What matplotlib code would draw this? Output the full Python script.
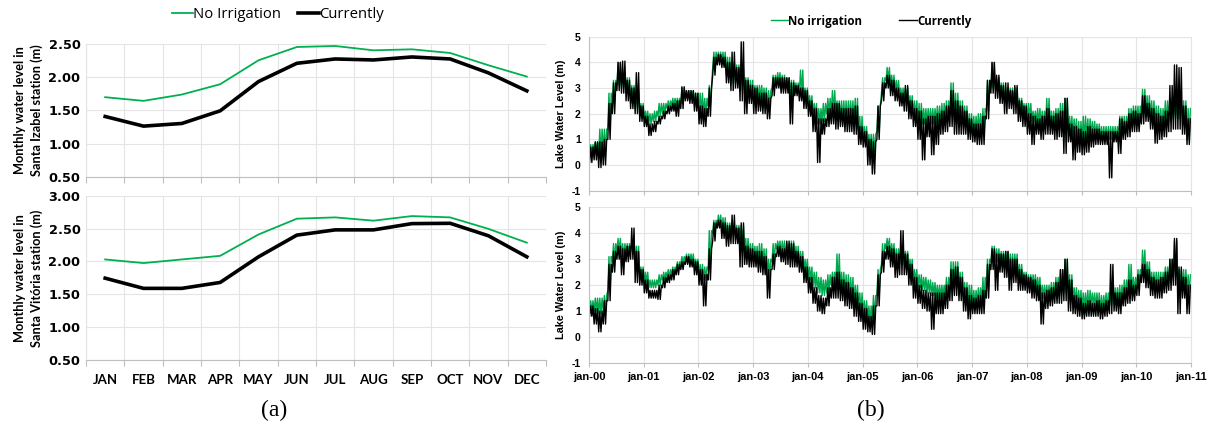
import numpy as np
import matplotlib
matplotlib.use('Agg')
import matplotlib.pyplot as plt
from matplotlib.lines import Line2D

GREEN = "#00B050"
GREEN_DAILY = "#00A84F"
GRID = "#E4E4E4"
AXIS = "#BFBFBF"

# (a) mean monthly level at the two stations
MONTHS = ["JAN", "FEB", "MAR", "APR", "MAY", "JUN", "JUL", "AUG", "SEP", "OCT", "NOV", "DEC"]
IZABEL_NO_IRR = [1.70, 1.645, 1.74, 1.895, 2.255, 2.455, 2.47, 2.405, 2.42, 2.365, 2.18, 2.01]
IZABEL_CURRENT = [1.41, 1.265, 1.305, 1.495, 1.935, 2.21, 2.275, 2.26, 2.305, 2.275, 2.065, 1.795]
VITORIA_NO_IRR = [2.03, 1.975, 2.03, 2.085, 2.41, 2.65, 2.67, 2.62, 2.69, 2.67, 2.495, 2.285]
VITORIA_CURRENT = [1.745, 1.59, 1.59, 1.68, 2.07, 2.40, 2.48, 2.48, 2.575, 2.58, 2.39, 2.07]

# (b) daily lake level 2000-2010, kept as monthly low / high of the daily trace
YEAR_TICKS = ["jan-%02d" % y for y in range(0, 12)]

TOP_CURR_LO = [
	[0.1, 0.2, -0.1, 0.0, 1.0, 2.0, 2.9, 2.8, 2.5, 2.2, 2.0, 1.7],
	[1.5, 1.15, 1.3, 1.6, 1.8, 2.0, 2.1, 1.9, 2.2, 2.5, 2.4, 2.1],
	[1.6, 1.5, 1.9, 3.5, 3.9, 3.8, 3.2, 2.9, 3.0, 2.5, 2.0, 2.4],
	[2.0, 2.1, 2.0, 1.8, 2.7, 3.0, 2.8, 2.8, 1.6, 2.7, 2.5, 2.2],
	[1.9, 1.3, 0.1, 1.2, 1.5, 1.6, 1.4, 1.5, 1.3, 1.3, 1.2, 0.8],
	[0.7, 0.0, -0.35, 1.0, 2.5, 3.0, 2.7, 2.5, 2.3, 2.1, 1.8, 1.5],
	[1.0, 0.2, 1.1, 0.4, 0.8, 1.2, 1.3, 1.5, 1.2, 1.2, 1.2, 1.0],
	[0.9, 0.8, 0.8, 1.8, 2.8, 2.6, 2.4, 2.0, 2.2, 2.0, 1.7, 1.5],
	[1.2, 0.8, 1.2, 1.0, 1.2, 1.2, 1.0, 1.1, 0.45, 0.9, 0.2, 0.5],
	[0.4, 0.5, 0.7, 0.8, 0.8, 0.8, -0.5, 0.9, 0.45, 1.0, 1.1, 1.3],
	[1.3, 1.6, 1.7, 1.4, 0.85, 1.0, 1.1, 1.3, 1.4, 1.4, 1.2, 0.8],
]
TOP_CURR_HI = [
	[0.7, 0.9, 0.9, 1.0, 2.4, 3.2, 4.0, 4.05, 3.3, 3.0, 3.6, 2.3],
	[1.9, 1.6, 1.7, 1.9, 2.1, 2.3, 2.4, 2.5, 3.05, 2.9, 2.9, 2.8],
	[2.3, 2.2, 3.0, 4.2, 4.3, 4.2, 4.0, 4.4, 3.8, 4.8, 3.3, 3.1],
	[3.0, 2.8, 2.8, 2.6, 3.4, 3.4, 3.4, 3.4, 3.2, 3.1, 3.0, 2.9],
	[2.5, 2.2, 1.8, 1.8, 2.2, 2.4, 2.4, 2.2, 2.2, 2.2, 2.3, 1.5],
	[1.3, 1.0, 0.9, 2.3, 3.2, 3.5, 3.3, 3.0, 2.8, 3.1, 2.5, 2.2],
	[2.1, 1.8, 1.9, 1.9, 2.0, 2.1, 2.3, 2.9, 2.5, 2.3, 2.1, 1.8],
	[1.6, 1.6, 1.9, 3.3, 4.0, 3.5, 3.1, 3.2, 2.9, 3.1, 2.5, 2.3],
	[2.0, 1.9, 1.8, 1.9, 2.2, 1.9, 2.0, 2.1, 2.6, 1.6, 1.5, 1.4],
	[1.3, 1.5, 1.4, 1.4, 1.3, 1.3, 1.3, 1.3, 1.8, 1.7, 2.0, 2.1],
	[2.0, 2.7, 2.4, 2.2, 2.0, 1.9, 2.1, 3.1, 3.9, 3.8, 2.3, 1.8],
]
TOP_NOIRR_LO = [
	[0.4, 0.5, 0.4, 0.5, 1.4, 2.4, 3.1, 3.0, 2.8, 2.4, 2.2, 1.9],
	[1.8, 1.6, 1.7, 1.9, 2.0, 2.2, 2.3, 2.3, 2.4, 2.6, 2.6, 2.3],
	[2.0, 1.9, 2.3, 3.8, 4.1, 4.0, 3.5, 3.2, 3.2, 2.9, 2.7, 2.7],
	[2.5, 2.6, 2.5, 2.2, 3.0, 3.2, 3.1, 3.0, 2.6, 2.8, 2.8, 2.5],
	[2.2, 1.9, 1.6, 1.7, 2.0, 2.0, 2.0, 1.8, 1.7, 1.8, 1.6, 1.0],
	[1.0, 0.6, 0.5, 1.3, 2.8, 3.3, 3.0, 2.8, 2.6, 2.5, 2.2, 1.9],
	[1.6, 1.6, 1.6, 1.6, 1.6, 1.6, 1.7, 1.9, 1.7, 1.5, 1.6, 1.3],
	[1.2, 1.3, 1.2, 2.1, 3.0, 2.9, 2.7, 2.4, 2.6, 2.4, 2.0, 1.9],
	[1.8, 1.7, 1.6, 1.5, 1.6, 1.5, 1.5, 1.5, 1.4, 1.3, 1.1, 0.9],
	[0.9, 1.0, 1.1, 1.1, 1.0, 1.0, 1.0, 1.0, 1.1, 1.2, 1.4, 1.6],
	[1.6, 2.0, 1.9, 1.7, 1.5, 1.4, 1.6, 1.7, 1.8, 1.8, 1.5, 1.0],
]
TOP_NOIRR_HI = [
	[0.8, 0.9, 1.4, 1.4, 2.8, 3.3, 4.0, 3.6, 3.4, 3.1, 2.9, 2.4],
	[2.1, 2.0, 2.1, 2.4, 2.4, 2.5, 2.6, 2.6, 3.0, 2.9, 2.9, 2.8],
	[2.8, 2.6, 3.1, 4.4, 4.4, 4.4, 4.2, 4.0, 3.9, 3.8, 3.4, 3.3],
	[3.1, 3.1, 3.0, 2.9, 3.5, 3.6, 3.5, 3.4, 3.3, 3.2, 3.7, 3.0],
	[2.7, 2.4, 2.2, 2.4, 2.6, 2.9, 2.5, 2.5, 2.5, 2.5, 2.6, 1.9],
	[1.5, 1.2, 1.2, 2.3, 3.4, 3.8, 3.5, 3.3, 3.0, 3.0, 2.7, 2.5],
	[2.4, 2.2, 2.2, 2.2, 2.3, 2.4, 2.5, 3.2, 2.8, 2.5, 2.3, 2.0],
	[1.9, 2.0, 2.2, 3.3, 4.0, 3.4, 3.2, 3.0, 3.0, 3.0, 2.6, 2.4],
	[2.4, 2.1, 2.2, 2.1, 2.6, 2.1, 2.2, 2.4, 2.6, 1.9, 1.8, 1.7],
	[1.9, 1.8, 1.7, 1.6, 1.5, 1.5, 1.5, 1.5, 1.9, 1.9, 2.2, 2.3],
	[2.3, 2.95, 2.7, 2.5, 2.3, 2.2, 2.5, 2.6, 2.6, 2.5, 2.5, 2.2],
]

BOT_CURR_LO = [
	[0.8, 0.5, 0.2, 0.5, 1.4, 2.5, 3.0, 2.4, 2.9, 3.0, 2.1, 2.0],
	[1.7, 1.5, 1.5, 1.45, 1.9, 2.1, 2.2, 2.4, 2.6, 2.8, 2.7, 2.4],
	[2.0, 1.2, 2.2, 3.7, 4.2, 3.8, 3.5, 3.6, 3.6, 2.7, 2.8, 2.7],
	[2.7, 2.5, 2.4, 1.5, 2.6, 3.1, 2.9, 2.8, 2.7, 2.7, 2.5, 2.1],
	[1.7, 1.3, 1.0, 0.9, 1.2, 1.5, 1.5, 1.4, 1.2, 1.1, 0.8, 0.6],
	[0.3, 0.2, 0.1, 1.2, 2.5, 3.0, 2.7, 2.3, 2.4, 2.4, 2.0, 1.5],
	[1.3, 1.1, 1.0, 0.3, 0.9, 0.9, 1.1, 1.4, 1.6, 1.4, 1.0, 0.7],
	[0.9, 0.9, 0.9, 1.5, 2.6, 1.8, 2.5, 2.3, 1.8, 2.1, 1.8, 1.8],
	[1.7, 1.5, 1.4, 0.5, 1.1, 1.2, 1.3, 1.3, 1.4, 1.0, 0.9, 0.8],
	[0.7, 0.8, 0.8, 0.8, 0.7, 0.8, 0.9, 1.0, 0.9, 1.2, 1.3, 1.4],
	[1.6, 2.1, 1.9, 1.6, 1.5, 1.5, 1.7, 1.8, 2.0, 0.9, 1.5, 0.9],
]
BOT_CURR_HI = [
	[1.2, 1.1, 1.0, 1.4, 2.8, 3.3, 3.5, 3.4, 3.5, 4.2, 3.3, 2.6],
	[2.2, 1.8, 1.8, 2.0, 2.3, 2.4, 2.6, 2.8, 2.9, 3.1, 3.0, 2.9],
	[2.6, 2.4, 3.4, 4.4, 4.5, 4.4, 4.3, 4.7, 4.2, 4.4, 3.5, 3.4],
	[3.3, 3.3, 3.1, 2.6, 3.2, 3.5, 3.4, 3.7, 3.6, 3.3, 3.1, 2.7],
	[2.3, 1.9, 1.6, 1.5, 1.9, 2.3, 2.5, 2.2, 2.1, 1.9, 1.7, 1.3],
	[1.1, 0.8, 1.2, 2.4, 3.3, 3.5, 3.4, 3.2, 4.1, 3.2, 2.8, 2.3],
	[2.0, 1.8, 1.7, 1.7, 1.7, 1.7, 2.0, 2.6, 2.7, 2.3, 1.9, 1.6],
	[1.5, 1.6, 1.8, 2.8, 3.4, 3.2, 3.2, 3.3, 3.0, 3.0, 2.6, 2.4],
	[2.3, 2.2, 2.0, 1.7, 1.8, 1.9, 2.1, 2.6, 3.0, 2.2, 1.6, 1.5],
	[1.3, 1.4, 1.3, 1.4, 1.3, 1.4, 2.8, 1.7, 1.7, 1.9, 2.2, 2.0],
	[2.4, 2.8, 2.6, 2.3, 2.2, 2.3, 2.5, 3.0, 3.8, 2.7, 2.3, 2.0],
]
BOT_NOIRR_LO = [
	[1.0, 1.0, 0.9, 1.0, 1.8, 2.9, 3.3, 3.1, 3.2, 3.3, 2.9, 2.3],
	[2.1, 1.9, 1.9, 2.0, 2.2, 2.3, 2.4, 2.6, 2.8, 2.9, 2.9, 2.7],
	[2.3, 2.2, 2.6, 4.0, 4.3, 4.1, 3.8, 3.9, 3.9, 3.6, 3.1, 3.0],
	[3.0, 2.8, 2.7, 2.3, 2.9, 3.4, 3.2, 3.1, 3.0, 2.9, 2.8, 2.5],
	[2.2, 1.9, 1.7, 1.6, 1.7, 2.0, 2.0, 1.8, 1.6, 1.5, 1.3, 1.0],
	[0.8, 0.6, 0.7, 1.6, 2.8, 3.4, 3.1, 2.8, 2.8, 2.8, 2.5, 2.1],
	[1.9, 1.8, 1.7, 1.6, 1.5, 1.5, 1.5, 1.9, 2.0, 1.8, 1.4, 1.2],
	[1.2, 1.3, 1.3, 1.8, 2.9, 2.9, 2.8, 2.7, 2.6, 2.6, 2.2, 2.0],
	[2.0, 1.9, 1.8, 1.5, 1.5, 1.5, 1.6, 1.6, 1.7, 1.4, 1.3, 1.2],
	[1.1, 1.1, 1.2, 1.1, 1.0, 1.1, 1.2, 1.3, 1.3, 1.5, 1.6, 1.7],
	[1.9, 2.4, 2.2, 1.9, 1.8, 1.8, 2.0, 2.1, 2.3, 2.0, 1.8, 1.7],
]
BOT_NOIRR_HI = [
	[1.4, 1.5, 1.5, 1.6, 3.1, 3.6, 3.8, 3.6, 3.6, 3.6, 3.5, 2.7],
	[2.5, 2.2, 2.2, 2.4, 2.5, 2.6, 2.7, 2.9, 3.1, 3.2, 3.2, 3.0],
	[2.8, 2.7, 4.1, 4.5, 4.7, 4.6, 4.4, 4.3, 4.3, 4.3, 3.8, 3.6],
	[3.5, 3.6, 3.4, 3.0, 3.6, 3.7, 3.7, 3.6, 3.7, 3.5, 3.3, 3.0],
	[2.7, 2.5, 2.3, 2.2, 2.4, 2.5, 3.2, 2.5, 2.4, 2.3, 2.0, 1.7],
	[1.4, 1.2, 1.6, 2.6, 3.6, 3.8, 3.6, 3.4, 3.5, 3.3, 3.0, 2.6],
	[2.4, 2.3, 2.2, 2.1, 2.0, 2.0, 2.3, 2.9, 2.9, 2.5, 2.1, 2.0],
	[1.8, 1.9, 2.3, 3.0, 3.5, 3.4, 3.3, 3.3, 3.2, 3.2, 2.8, 2.5],
	[2.4, 2.4, 2.3, 2.0, 2.0, 2.1, 2.3, 2.6, 3.0, 2.4, 1.9, 1.8],
	[1.7, 1.8, 1.7, 1.7, 1.6, 1.7, 1.8, 1.9, 2.0, 2.2, 2.8, 2.3],
	[2.6, 3.35, 2.9, 2.5, 2.5, 2.5, 2.7, 3.0, 3.7, 2.6, 2.6, 2.4],
]

LEFT_FONT = ["Lato", "DejaVu Sans"]
WIDE_FONT = ["DejaVu Sans"]
LEGEND_FONT = ["Open Sans", "DejaVu Sans"]
RIGHT_FONT = ["Liberation Sans", "DejaVu Sans"]


def zigzag(lo, hi):
	"""Swing between each month's low and high twice, so the trace fills its daily range."""
	lo = np.ravel(lo)
	hi = np.ravel(hi)
	m = np.arange(len(lo))
	x = np.column_stack([m + 0.125, m + 0.375, m + 0.625, m + 0.875]).ravel()
	y = np.column_stack([lo, hi, lo, hi]).ravel()
	return x, y


def style_monthly(ax, ylim, yticks, show_labels):
	ax.set_xlim(-0.5, 11.5)
	ax.set_ylim(*ylim)
	ax.set_yticks(yticks)
	ax.set_yticklabels(["%.2f" % v for v in yticks], fontweight="bold", fontsize=9.3, family=WIDE_FONT)
	ax.set_xticks(np.arange(-0.5, 12, 1.0))
	ax.set_xticklabels([])
	ax.tick_params(axis="x", length=4, color=AXIS, width=0.8)
	ax.set_xticks(range(12), minor=True)
	if show_labels:
		ax.set_xticklabels(MONTHS, minor=True, fontweight="bold", fontsize=9.5, family=LEFT_FONT)
	ax.tick_params(axis="x", which="minor", length=0, pad=10)
	ax.tick_params(axis="y", length=0, pad=4)
	ax.grid(True, which="major", color=GRID, lw=0.8)
	ax.set_axisbelow(True)
	for side in ("top", "right"):
		ax.spines[side].set_visible(False)
	ax.spines["left"].set_color(GRID)
	ax.spines["bottom"].set_color(AXIS)


def style_daily(ax):
	ax.set_xlim(0, 132)
	ax.set_ylim(-1, 5)
	ax.set_yticks(range(-1, 6))
	ax.set_yticklabels([str(v) for v in range(-1, 6)], fontweight="bold", fontsize=7.5, family=RIGHT_FONT)
	ax.set_xticks(range(0, 133, 12))
	ax.tick_params(axis="x", length=3, color=AXIS, width=0.8)
	ax.tick_params(axis="y", length=0, pad=6)
	ax.grid(True, color=GRID, lw=0.8)
	ax.set_axisbelow(True)
	ax.spines["top"].set_visible(False)
	ax.spines["right"].set_color(GRID)
	ax.spines["left"].set_color(AXIS)
	ax.spines["bottom"].set_color(AXIS)
	ax.set_ylabel("Lake Water Level (m)", fontweight="bold", fontsize=7.8, family=RIGHT_FONT, labelpad=4)


fig = plt.figure(figsize=(12.13, 4.30), dpi=100)
W, H = 1213.0, 430.0

# (a) monthly panels
ax_a1 = fig.add_axes([86 / W, 1 - 177 / H, 460 / W, 133 / H])
ax_a2 = fig.add_axes([86 / W, 1 - 360 / H, 460 / W, 164.3 / H])
x = np.arange(12)
for ax, no_irr, curr, ylim, yticks, lab, show in [
	(ax_a1, IZABEL_NO_IRR, IZABEL_CURRENT, (0.5, 2.5), [0.5, 1.0, 1.5, 2.0, 2.5],
		"Monthly water level in\nSanta Izabel station (m)", False),
	(ax_a2, VITORIA_NO_IRR, VITORIA_CURRENT, (0.5, 3.0), [0.5, 1.0, 1.5, 2.0, 2.5, 3.0],
		"Monthly water level in\nSanta Vitória station (m)", True)]:
	ax.plot(x, no_irr, color=GREEN, lw=1.3)
	ax.plot(x, curr, color="black", lw=2.6)
	style_monthly(ax, ylim, yticks, show)
	ax.set_ylabel(lab, fontweight="bold", fontsize=9.2, family=LEFT_FONT, labelpad=4, linespacing=1.4)

fig.legend([Line2D([], [], color=GREEN, lw=1.3), Line2D([], [], color="black", lw=2.6)],
	["No Irrigation", "Currently"], loc="center", bbox_to_anchor=(278 / W, 1 - 15 / H),
	ncol=2, frameon=False, handlelength=1.4, handletextpad=0.05, columnspacing=1.1,
	prop={"family": LEGEND_FONT, "size": 10.7})

# (b) daily lake level panels
ax_b1 = fig.add_axes([589 / W, 1 - 190.7 / H, 602 / W, 154 / H])
ax_b2 = fig.add_axes([589 / W, 1 - 363 / H, 602 / W, 155.7 / H])
for ax, nlo, nhi, clo, chi, show in [
	(ax_b1, TOP_NOIRR_LO, TOP_NOIRR_HI, TOP_CURR_LO, TOP_CURR_HI, False),
	(ax_b2, BOT_NOIRR_LO, BOT_NOIRR_HI, BOT_CURR_LO, BOT_CURR_HI, True)]:
	gx, gy = zigzag(nlo, nhi)
	cx, cy = zigzag(clo, chi)
	ax.plot(gx, gy, color=GREEN_DAILY, lw=1.0)
	ax.plot(cx, cy, color="black", lw=1.0)
	style_daily(ax)
	if show:
		ax.set_xticklabels(YEAR_TICKS, fontweight="bold", fontsize=8, family=RIGHT_FONT)
	else:
		ax.set_xticklabels([])

fig.legend([Line2D([], [], color=GREEN_DAILY, lw=1.0), Line2D([], [], color="black", lw=1.0)],
	["No irrigation", "Currently"], loc="center", bbox_to_anchor=(871 / W, 1 - 21 / H),
	ncol=2, frameon=False, handlelength=1.5, handletextpad=0.05, columnspacing=3.2,
	prop={"family": LEGEND_FONT, "size": 8.3, "weight": "bold"})

fig.text(274 / W, 1 - 410 / H, "(a)", ha="center", va="center", fontsize=17, family=["Liberation Serif", "DejaVu Serif"])
fig.text(871 / W, 1 - 410 / H, "(b)", ha="center", va="center", fontsize=17, family=["Liberation Serif", "DejaVu Serif"])

fig.savefig("out.png", dpi=100)
